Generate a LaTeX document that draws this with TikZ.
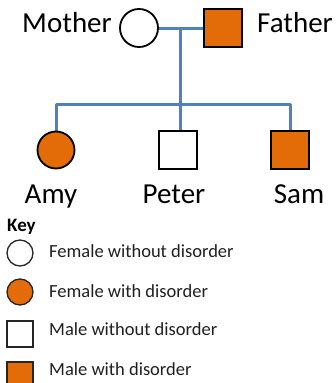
\documentclass[tikz,border=0pt]{standalone}
\usepackage{fontspec}
\setmainfont{Carlito}
\usetikzlibrary{backgrounds}
\definecolor{affected}{HTML}{E36C09}
\definecolor{linkblue}{HTML}{4F81BD}
\begin{document}
\begin{tikzpicture}[x=1pt,y=-1pt,
  person/.style={draw=black,line width=1.8pt,inner sep=0pt,minimum size=38pt},
  female/.style={person,circle},
  male/.style={person,rectangle},
  keyfemale/.style={draw=black!85,line width=1.3pt,circle,inner sep=0pt,minimum size=26pt},
  keymale/.style={draw=black!85,line width=1.3pt,rectangle,inner sep=0pt,minimum size=26pt},
  plabel/.style={font=\fontsize{29}{34}\selectfont,inner sep=0pt,anchor=base},
  keytext/.style={font=\fontsize{18.5}{22}\selectfont,text=black!88,inner sep=0pt,anchor=base west},
  link/.style={draw=linkblue,line width=3pt,line join=round}]
\useasboundingbox (0,0) rectangle (336,383);
\clip (0,0) rectangle (336,383);

% parents
\node[female,fill=white] (mother) at (139,28) {};
\node[male,fill=affected] (father) at (223,28) {};
\node[plabel,anchor=base east] (lmother) at (112,32) {Mother};
\node[plabel,anchor=base west] (lfather) at (257,32) {Father};

% children
\node[female,fill=affected,minimum size=37pt] (amy) at (56,150) {};
\node[male,fill=white] (peter) at (178,150) {};
\node[male,fill=affected] (sam) at (290,150) {};
\node[plabel] (lamy) at (51,203) {Amy};
\node[plabel] (lpeter) at (174,203) {Peter};
\node[plabel] (lsam) at (299,203) {Sam};

% family lines, kept behind the symbols
\coordinate (mid) at (180,28);
\coordinate (bar) at (180,104);
\begin{pgfonlayer}{background}
\draw[link] (mother.east) -- (father.west);
\draw[link] (mid) -- (bar);
\draw[link] (amy.north) |- (bar) -| (sam.north);
\draw[link] (bar) -- (bar |- peter.north);
\end{pgfonlayer}

% key
\node[font=\bfseries\fontsize{19}{22}\selectfont,inner sep=0pt,anchor=base west] (key) at (7,231) {Key};
\node[keyfemale,fill=white] (k1) at (20,253) {};
\node[keyfemale,fill=affected] (k2) at (20,292) {};
\node[keymale,fill=white] (k3) at (20,334) {};
\node[keymale,fill=affected] (k4) at (20,375) {};
\node[keytext] (t1) at (49,257) {Female without disorder};
\node[keytext] (t2) at (49,297) {Female with disorder};
\node[keytext] (t3) at (49,335) {Male without disorder};
\node[keytext] (t4) at (49,375) {Male with disorder};
\end{tikzpicture}
\end{document}
